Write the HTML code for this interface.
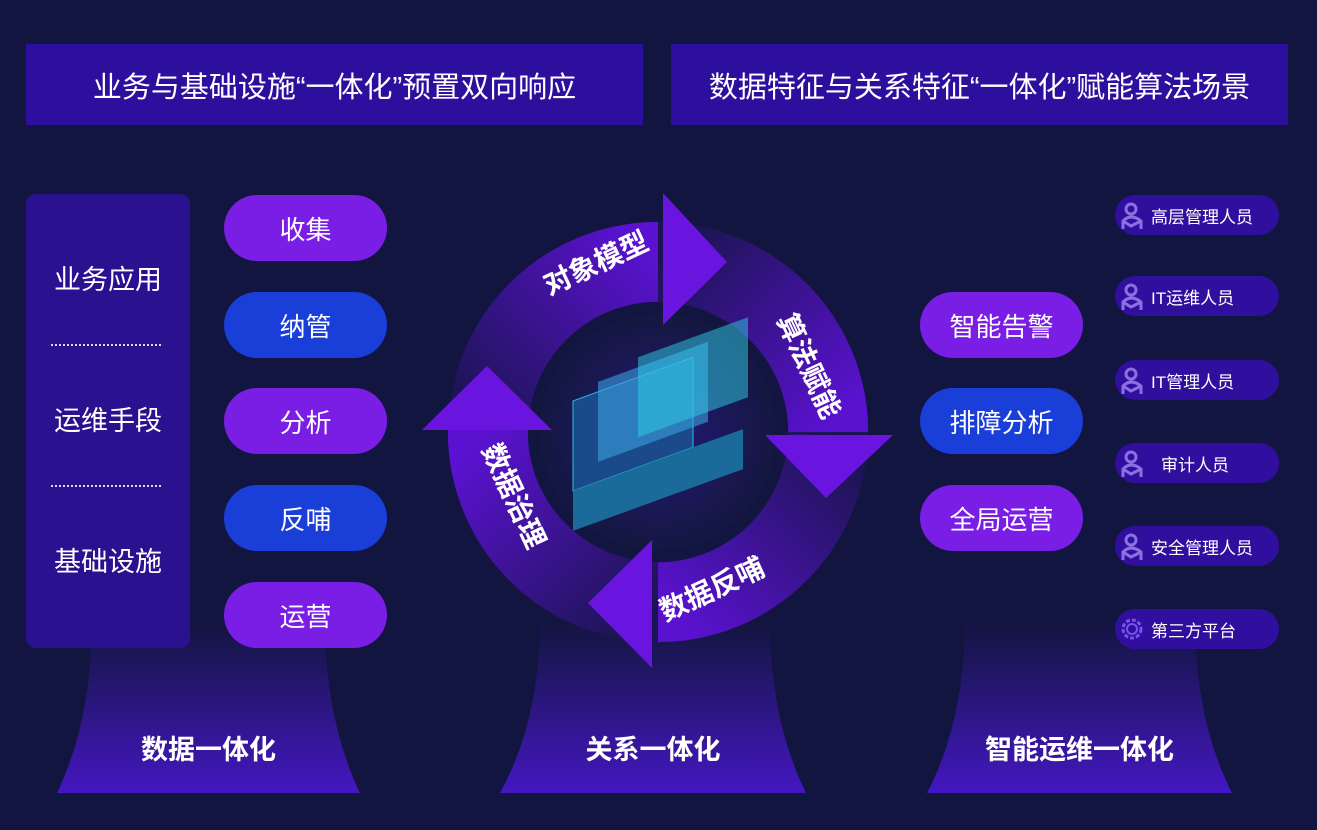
<!DOCTYPE html>
<html><head><meta charset="utf-8"><style>
*{margin:0;padding:0;box-sizing:border-box}
body{width:1317px;height:830px;background:#12153f;position:relative;overflow:hidden;font-family:"Liberation Sans","Noto Sans CJK SC",sans-serif;color:#fff}
.hd{position:absolute;top:44px;height:81px;background:#2c0f9c;font-size:29px;display:flex;align-items:center;justify-content:center}
.pill{position:absolute;width:163px;height:66px;border-radius:33px;display:flex;align-items:center;justify-content:center;font-size:26px}
.p{background:#7a1ee6}.b{background:#1a3ed8}
.sp{position:absolute;left:1115px;width:164px;height:40px;border-radius:20px;background:#300f9e;font-size:17px;display:flex;align-items:center;padding-left:36px}
.sp svg{position:absolute;left:6px;top:6px}
.lab{position:absolute;font-size:27px;font-weight:bold;text-align:center}
.lp{position:absolute;left:26px;top:194px;width:164px;height:454px;background:#2a1190;border-radius:10px}
.lp div{position:absolute;width:100%;text-align:center;font-size:27px}
.dot{position:absolute;left:25px;width:110px;border-top:2px dotted #ddd}
</style></head><body>
<svg width="1317" height="830" style="position:absolute;left:0;top:0">
<defs>
<linearGradient id="pg" x1="0" y1="0" x2="0" y2="1"><stop offset="0" stop-color="#12153f"/><stop offset="1" stop-color="#4417c0"/></linearGradient>
<linearGradient id="g1" gradientUnits="userSpaceOnUse" x1="488" y1="432" x2="658" y2="262"><stop offset="0" stop-color="#1c1452"/><stop offset="1" stop-color="#5a12d0"/></linearGradient>
<linearGradient id="g2" gradientUnits="userSpaceOnUse" x1="658" y1="262" x2="828" y2="432"><stop offset="0" stop-color="#1c1452"/><stop offset="1" stop-color="#5a12d0"/></linearGradient>
<linearGradient id="g3" gradientUnits="userSpaceOnUse" x1="828" y1="432" x2="658" y2="602"><stop offset="0" stop-color="#1c1452"/><stop offset="1" stop-color="#5a12d0"/></linearGradient>
<linearGradient id="g4" gradientUnits="userSpaceOnUse" x1="658" y1="602" x2="488" y2="432"><stop offset="0" stop-color="#1c1452"/><stop offset="1" stop-color="#5a12d0"/></linearGradient>
<radialGradient id="cg"><stop offset="0" stop-color="#24197a"/><stop offset="1" stop-color="#141740"/></radialGradient>
</defs>
<path d="M92 620 L325 620 Q325 720 360 793 L57 793 Q92 720 92 620Z" fill="url(#pg)"/>
<path d="M540 620 L770 620 Q770 720 806 793 L500 793 Q540 720 540 620Z" fill="url(#pg)"/>
<path d="M965 620 L1195 620 Q1195 720 1232 793 L927 793 Q965 720 965 620Z" fill="url(#pg)"/>
<g fill="none" stroke-width="80">
<path d="M488 432 A170 170 0 0 1 665 262" stroke="url(#g1)"/>
<path d="M658 262 A170 170 0 0 1 828 440" stroke="url(#g2)"/>
<path d="M828 432 A170 170 0 0 1 650 602" stroke="url(#g3)"/>
<path d="M658 602 A170 170 0 0 1 488 425" stroke="url(#g4)"/>
</g>
<circle cx="658" cy="432" r="118" fill="url(#cg)"/>
<polygon points="663,193 727,262 663,325" fill="#6a14e0"/>
<polygon points="765,435 893,435 826,498" fill="#6a14e0"/>
<polygon points="652,540 652,668 588,603" fill="#6a14e0"/>
<polygon points="422,430 552,430 487,366" fill="#6a14e0"/>
<g transform="translate(658,440) skewY(-20)">
<rect x="-85" y="-70" width="120" height="90" fill="#1a4a8a" stroke="#2ac0e0"/>
<rect x="-60" y="-80" width="110" height="80" fill="#3aa0e0" opacity="0.6"/>
<rect x="-20" y="-90" width="110" height="80" fill="#30d0e8" opacity="0.5"/>
<rect x="-85" y="20" width="170" height="40" fill="#1a6a9a"/>
</g>
<text x="600" y="272" font-size="28" font-weight="bold" fill="#fff" text-anchor="middle" transform="rotate(-25 600 272)" font-family="Noto Sans CJK SC">对象模型</text>
<text x="800" y="370" font-size="28" font-weight="bold" fill="#fff" text-anchor="middle" transform="rotate(65 800 370)" font-family="Noto Sans CJK SC">算法赋能</text>
<text x="716" y="598" font-size="28" font-weight="bold" fill="#fff" text-anchor="middle" transform="rotate(-25 716 598)" font-family="Noto Sans CJK SC">数据反哺</text>
<text x="505" y="500" font-size="28" font-weight="bold" fill="#fff" text-anchor="middle" transform="rotate(65 505 500)" font-family="Noto Sans CJK SC">数据治理</text>
</svg>
<div class="hd" style="left:26px;width:617px">业务与基础设施“一体化”预置双向响应</div>
<div class="hd" style="left:671px;width:617px">数据特征与关系特征“一体化”赋能算法场景</div>
<div class="lp">
<div style="top:64px">业务应用</div><span class="dot" style="top:150px"></span>
<div style="top:205px">运维手段</div><span class="dot" style="top:291px"></span>
<div style="top:346px">基础设施</div>
</div>
<div class="pill p" style="left:224px;top:195px">收集</div>
<div class="pill b" style="left:224px;top:292px">纳管</div>
<div class="pill p" style="left:224px;top:388px">分析</div>
<div class="pill b" style="left:224px;top:485px">反哺</div>
<div class="pill p" style="left:224px;top:582px">运营</div>
<div class="pill p" style="left:920px;top:292px">智能告警</div>
<div class="pill b" style="left:920px;top:388px">排障分析</div>
<div class="pill p" style="left:920px;top:485px">全局运营</div>
<div class="sp" style="top:195px"><svg width="24" height="30"><circle cx="10" cy="8" r="5" fill="none" stroke="#8a70e0" stroke-width="3"/><path d="M2 28 V20 Q10 12 20 20 V28 M2 20 L10 25 L20 20" fill="none" stroke="#8a70e0" stroke-width="3"/></svg>高层管理人员</div>
<div class="sp" style="top:276px"><svg width="24" height="30"><circle cx="10" cy="8" r="5" fill="none" stroke="#8a70e0" stroke-width="3"/><path d="M2 28 V20 Q10 12 20 20 V28 M2 20 L10 25 L20 20" fill="none" stroke="#8a70e0" stroke-width="3"/></svg>IT运维人员</div>
<div class="sp" style="top:360px"><svg width="24" height="30"><circle cx="10" cy="8" r="5" fill="none" stroke="#8a70e0" stroke-width="3"/><path d="M2 28 V20 Q10 12 20 20 V28 M2 20 L10 25 L20 20" fill="none" stroke="#8a70e0" stroke-width="3"/></svg>IT管理人员</div>
<div class="sp" style="top:443px;padding-left:46px"><svg width="24" height="30"><circle cx="10" cy="8" r="5" fill="none" stroke="#8a70e0" stroke-width="3"/><path d="M2 28 V20 Q10 12 20 20 V28 M2 20 L10 25 L20 20" fill="none" stroke="#8a70e0" stroke-width="3"/></svg>审计人员</div>
<div class="sp" style="top:526px"><svg width="24" height="30"><circle cx="10" cy="8" r="5" fill="none" stroke="#8a70e0" stroke-width="3"/><path d="M2 28 V20 Q10 12 20 20 V28 M2 20 L10 25 L20 20" fill="none" stroke="#8a70e0" stroke-width="3"/></svg>安全管理人员</div>
<div class="sp" style="top:609px"><svg width="26" height="28"><circle cx="11" cy="14" r="9" fill="none" stroke="#7a50f0" stroke-width="3" stroke-dasharray="4 2"/><circle cx="11" cy="14" r="5" fill="none" stroke="#7a50f0" stroke-width="2"/></svg>第三方平台</div>
<div class="lab" style="left:57px;width:303px;top:728px">数据一体化</div>
<div class="lab" style="left:500px;width:306px;top:728px">关系一体化</div>
<div class="lab" style="left:927px;width:305px;top:728px">智能运维一体化</div>
</body></html>
